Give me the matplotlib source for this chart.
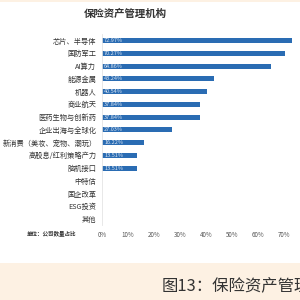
import matplotlib

matplotlib.use("Agg")
import matplotlib.patches as patches
import matplotlib.pyplot as plt

plt.rcParams["font.family"] = ["Noto Sans CJK SC", "DejaVu Sans"]

categories = [
    "芯片、半导体", "国防军工", "AI算力", "能源金属", "机器人", "商业航天",
    "医药生物与创新药", "企业出海与全球化", "新消费（美妆、宠物、潮玩）",
    "高股息/红利策略产力", "脑机接口", "中特估", "国企改革", "ESG投资", "其他",
]
values = [72.97, 70.27, 64.86, 43.24, 40.54, 37.84, 37.84, 27.03, 16.22,
          13.51, 13.51, 0, 0, 0, 0]
xticks = [0, 10, 20, 30, 40, 50, 60, 70]

BAR_C = "#2a6cb3"
CREAM = "#fdf1e3"
TEXT_C = "#333333"

fig = plt.figure(figsize=(3, 3), dpi=100)
fig.patch.set_facecolor("white")

# cream footer band
fig.add_artist(patches.Rectangle((0, 0), 1, 37 / 300, transform=fig.transFigure,
                                 facecolor=CREAM, edgecolor="none", zorder=0))
fig.add_artist(patches.Rectangle((0, 1 - 2 / 300), 1, 2 / 300, transform=fig.transFigure,
                                 facecolor=CREAM, edgecolor="none", zorder=0))

ax = fig.add_axes([102 / 300, 1 - 225.4 / 300, 196 / 300, (225.4 - 34.3) / 300])
ax.set_facecolor("none")
y = list(range(len(categories)))
ax.barh(y, values, height=0.4, color=BAR_C)
ax.set_xlim(0, 75.4)
ax.set_ylim(len(categories) - 0.5, -0.5)

for yi, v in zip(y, values):
    if v > 0:
        ax.text(0.8, yi, f"{v:.2f}%", ha="left", va="center", fontsize=4,
                color="#dce6f2")

ax.set_yticks(y)
ax.set_yticklabels(categories, fontsize=5.2, color=TEXT_C)
ax.set_xticks(xticks)
ax.set_xticklabels([f"{t}%" for t in xticks], fontsize=4.5, color="#555555")
ax.tick_params(axis="both", length=0, pad=4)
ax.tick_params(axis="x", pad=4)
for s in ["top", "right", "bottom"]:
    ax.spines[s].set_visible(False)
ax.spines["left"].set_color("#e4e4e4")
ax.spines["left"].set_linewidth(0.6)

fig.text(125 / 300, 1 - 14 / 300, "保险资产管理机构", ha="center", va="center",
         fontsize=7.5, fontweight="bold", color=TEXT_C)
fig.text(27 / 300, 1 - 233 / 300, "单位：公司数量占比", ha="left", va="center",
         fontsize=4, fontweight="bold", color=TEXT_C)
fig.text(162 / 300, 1 - 287 / 300, "图13：保险资产管理", ha="left", va="center",
         fontsize=11.8, color=TEXT_C)

fig.savefig("out.png", dpi=100)
